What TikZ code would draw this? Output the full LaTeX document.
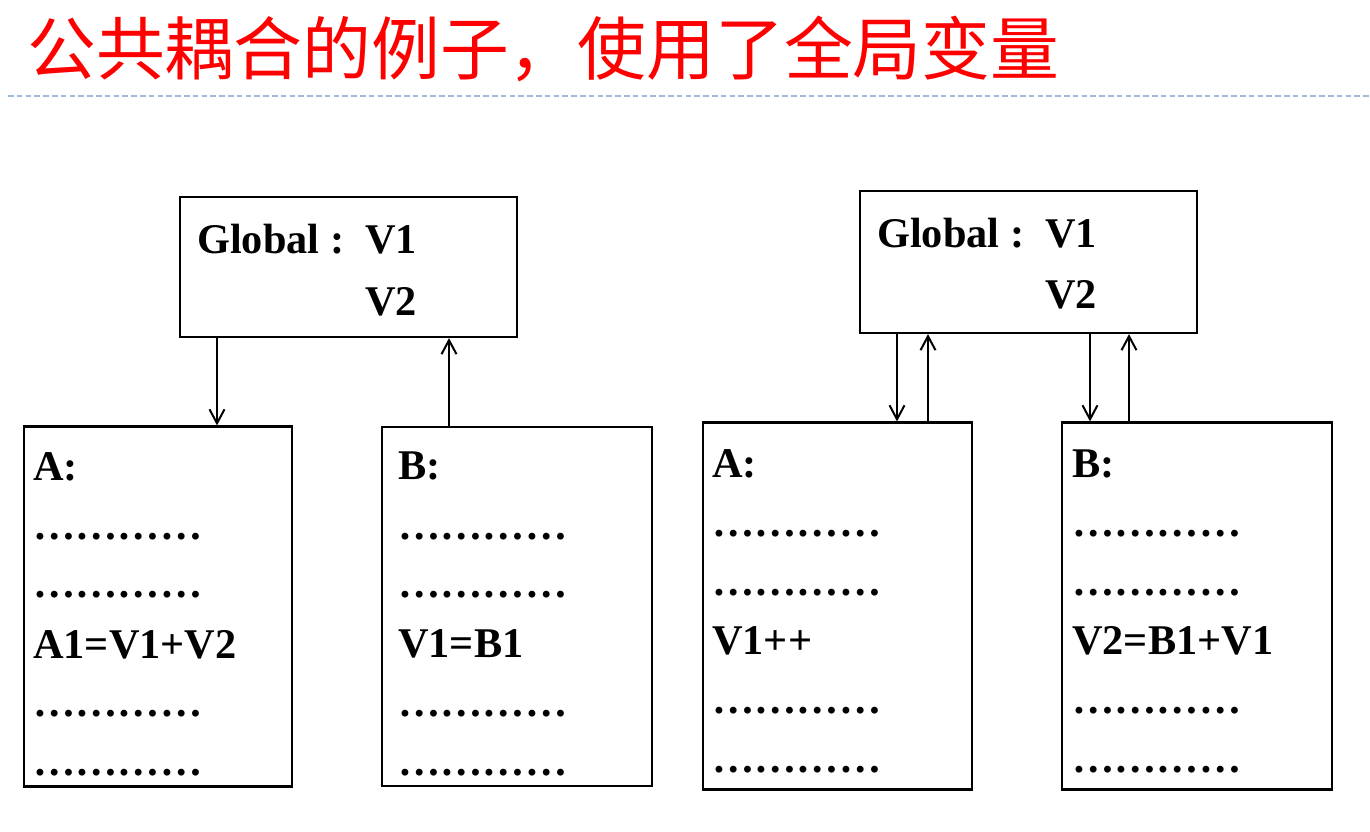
\documentclass[tikz,border=0pt]{standalone}
\usepackage{fontspec}
\setmainfont{Liberation Serif}
\newfontfamily\cjk{Noto Sans CJK SC}
\usetikzlibrary{arrows.meta}
\definecolor{titlered}{RGB}{255,0,0}
\definecolor{dashblue}{RGB}{157,187,216}
\tikzset{
  box/.style={draw, line width=2.2pt, inner sep=0pt, fill=white},
  txt/.style={anchor=base west, inner sep=0pt, font=\fontsize{42.3}{50}\selectfont\bfseries},
  arr/.style={line width=2pt, -{Straight Barb[length=14pt,width=15pt,line width=2pt]}},
}
\newcommand{\dts}{\dots\dots\dots\dots}
\begin{document}
\begin{tikzpicture}[x=1pt,y=-1pt]
\useasboundingbox (0,0) rectangle (1370,832);
% title
\node[anchor=base west, inner sep=0pt, text=titlered, font=\fontsize{68.8}{80}\selectfont\cjk] (title) at (27,75) {公共耦合的例子，使用了全局变量};
\coordinate (dl) at (8,96);
\coordinate (dr) at (1370,96);
\draw[dashblue, line width=1.5pt, dash pattern=on 5.5pt off 3.3pt] (dl) -- (dr);

% boxes
\node[box, minimum width=337pt, minimum height=140pt] (g1) at (348.5,267) {};
\node[box, minimum width=337pt, minimum height=142pt] (g2) at (1028.5,262) {};
\node[box, minimum width=268pt, minimum height=360pt] (a1) at (158,606.5) {};
\node[box, minimum width=270pt, minimum height=359pt] (b1) at (517,606.5) {};
\node[box, minimum width=269pt, minimum height=367pt] (a2) at (837.5,606) {};
\node[box, minimum width=270pt, minimum height=367pt] (b2) at (1197,606) {};

% global texts
\node[txt] (g1a) at (197,253) {Global :};
\node[txt] (g1b) at (365,253) {V1};
\node[txt] (g1c) at (365,315) {V2};
\node[txt] (g2a) at (877,247) {Global :};
\node[txt] (g2b) at (1045,247) {V1};
\node[txt] (g2c) at (1045,308) {V2};

% left A
\node[txt] (a1r1) at (33,480) {A:};
\node[txt] (a1r2) at (33,539) {\dts};
\node[txt] (a1r3) at (33,597) {\dts};
\node[txt] (a1r4) at (33,658) {A1=V1+V2};
\node[txt] (a1r5) at (33,716) {\dts};
\node[txt] (a1r6) at (33,775) {\dts};
% left B
\node[txt] (b1r1) at (398,479) {B:};
\node[txt] (b1r2) at (398,539) {\dts};
\node[txt] (b1r3) at (398,597) {\dts};
\node[txt] (b1r4) at (398,657) {V1=B1};
\node[txt] (b1r5) at (398,716) {\dts};
\node[txt] (b1r6) at (398,775) {\dts};
% right A
\node[txt] (a2r1) at (712,477) {A:};
\node[txt] (a2r2) at (712,536) {\dts};
\node[txt] (a2r3) at (712,595) {\dts};
\node[txt] (a2r4) at (712,654) {V1++};
\node[txt] (a2r5) at (712,713) {\dts};
\node[txt] (a2r6) at (712,772) {\dts};
% right B
\node[txt] (b2r1) at (1072,477) {B:};
\node[txt] (b2r2) at (1072,536) {\dts};
\node[txt] (b2r3) at (1072,595) {\dts};
\node[txt] (b2r4) at (1072,654) {V2=B1+V1};
\node[txt] (b2r5) at (1072,713) {\dts};
\node[txt] (b2r6) at (1072,772) {\dts};

% arrows
\coordinate (x1) at (217,0);
\coordinate (x2) at (449,0);
\coordinate (x3) at (897,0);
\coordinate (x4) at (928,0);
\coordinate (x5) at (1090,0);
\coordinate (x6) at (1129,0);
\draw[arr] (g1.south -| x1) -- (a1.north -| x1);
\draw[arr] (b1.north -| x2) -- (g1.south -| x2);
\draw[arr] (g2.south -| x3) -- (a2.north -| x3);
\draw[arr] (a2.north -| x4) -- (g2.south -| x4);
\draw[arr] (g2.south -| x5) -- (b2.north -| x5);
\draw[arr] (b2.north -| x6) -- (g2.south -| x6);
\end{tikzpicture}
\end{document}
